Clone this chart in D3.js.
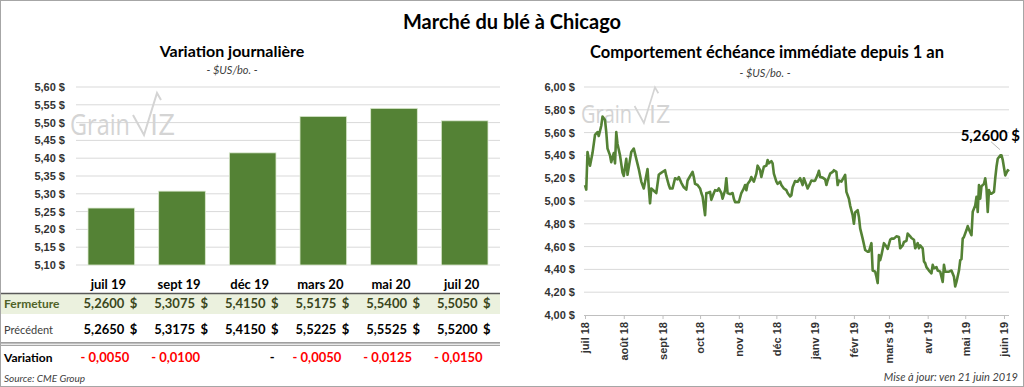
<!DOCTYPE html>
<html>
<head>
<meta charset="utf-8">
<script src="https://cdn.jsdelivr.net/npm/d3@7"></script>
<style>
  body { margin: 0; background: #fff; }
  svg { display: block; font-family: Lato, "Open Sans", sans-serif; }
</style>
</head>
<body>
<script>
// Variation journalière
const mois = ["juil 19", "sept 19", "déc 19", "mars 20", "mai 20", "juil 20"];
const fermeture = [5.26, 5.3075, 5.415, 5.5175, 5.54, 5.505];
const precedent = [5.265, 5.3175, 5.415, 5.5225, 5.5525, 5.52];
const variation = [-0.005, -0.01, 0, -0.005, -0.0125, -0.015];

// échéance immédiate, 1 an
const nomsMois = ["janv", "févr", "mars", "avr", "mai", "juin", "juil", "août", "sept", "oct", "nov", "déc"];
const dernier = 5.26;
const serie = [
  ["2018-07-01",5.14],["2018-07-02",5.10],["2018-07-03",5.43],["2018-07-05",5.31],["2018-07-07",5.42],
  ["2018-07-09",5.58],["2018-07-11",5.605],["2018-07-12",5.57],["2018-07-14",5.66],["2018-07-15",5.74],
  ["2018-07-17",5.71],["2018-07-18",5.605],["2018-07-19",5.46],["2018-07-21",5.40],["2018-07-22",5.34],
  ["2018-07-24",5.42],["2018-07-25",5.33],["2018-07-26",5.605],["2018-07-27",5.50],["2018-07-29",5.40],
  ["2018-07-31",5.25],["2018-08-01",5.22],["2018-08-03",5.37],["2018-08-04",5.23],["2018-08-07",5.43],
  ["2018-08-09",5.46],["2018-08-11",5.37],["2018-08-13",5.28],["2018-08-15",5.17],["2018-08-17",5.11],
  ["2018-08-20",5.28],["2018-08-21",5.12],["2018-08-22",4.98],["2018-08-23",5.11],["2018-08-25",5.09],
  ["2018-08-27",5.07],["2018-08-29",5.23],["2018-08-30",5.24],["2018-09-03",5.27],["2018-09-04",5.22],
  ["2018-09-06",5.14],["2018-09-07",5.11],["2018-09-09",5.11],["2018-09-11",5.20],["2018-09-13",5.19],
  ["2018-09-14",5.21],["2018-09-16",5.16],["2018-09-18",5.12],["2018-09-20",5.10],["2018-09-21",5.18],
  ["2018-09-25",5.255],["2018-09-26",5.21],["2018-09-27",5.15],["2018-09-29",5.14],["2018-10-01",5.11],
  ["2018-10-02",5.07],["2018-10-03",5.04],["2018-10-05",4.875],["2018-10-06",5.07],["2018-10-07",5.07],
  ["2018-10-09",5.08],["2018-10-10",5.01],["2018-10-12",5.07],["2018-10-13",5.095],["2018-10-15",5.09],
  ["2018-10-16",5.11],["2018-10-18",5.07],["2018-10-19",5.02],["2018-10-21",5.095],["2018-10-22",5.20],
  ["2018-10-23",5.07],["2018-10-25",5.06],["2018-10-27",5.07],["2018-10-28",5.02],["2018-10-29",4.99],
  ["2018-10-31",4.99],["2018-11-01",4.99],["2018-11-03",5.07],["2018-11-05",5.11],["2018-11-06",5.14],
  ["2018-11-07",5.095],["2018-11-08",5.15],["2018-11-10",5.18],["2018-11-11",5.21],["2018-11-13",5.17],
  ["2018-11-15",5.24],["2018-11-16",5.31],["2018-11-18",5.27],["2018-11-19",5.21],["2018-11-21",5.30],
  ["2018-11-23",5.31],["2018-11-24",5.36],["2018-11-25",5.33],["2018-11-27",5.35],["2018-11-28",5.33],
  ["2018-11-29",5.24],["2018-12-01",5.17],["2018-12-02",5.15],["2018-12-04",5.17],["2018-12-05",5.14],
  ["2018-12-07",5.11],["2018-12-09",5.095],["2018-12-10",5.07],["2018-12-12",5.04],["2018-12-13",5.05],
  ["2018-12-14",5.12],["2018-12-16",5.175],["2018-12-17",5.17],["2018-12-18",5.17],["2018-12-20",5.20],
  ["2018-12-21",5.17],["2018-12-22",5.14],["2018-12-23",5.20],["2018-12-24",5.17],["2018-12-26",5.11],
  ["2018-12-28",5.155],["2018-12-29",5.18],["2018-12-31",5.175],["2019-01-01",5.18],["2019-01-03",5.23],
  ["2019-01-04",5.265],["2019-01-05",5.21],["2019-01-07",5.205],["2019-01-09",5.19],["2019-01-10",5.14],
  ["2019-01-11",5.18],["2019-01-13",5.24],["2019-01-15",5.255],["2019-01-16",5.27],["2019-01-18",5.255],
  ["2019-01-19",5.14],["2019-01-20",5.18],["2019-01-22",5.17],["2019-01-24",5.21],["2019-01-25",5.23],
  ["2019-01-26",5.08],["2019-01-28",5.02],["2019-01-29",4.96],["2019-01-31",4.875],["2019-02-01",4.80],
  ["2019-02-02",4.90],["2019-02-04",4.92],["2019-02-05",4.86],["2019-02-06",4.76],["2019-02-08",4.67],
  ["2019-02-09",4.62],["2019-02-10",4.57],["2019-02-12",4.555],["2019-02-13",4.555],["2019-02-15",4.63],
  ["2019-02-16",4.39],["2019-02-18",4.38],["2019-02-19",4.335],["2019-02-20",4.28],["2019-02-21",4.525],
  ["2019-02-22",4.48],["2019-02-23",4.525],["2019-02-25",4.63],["2019-02-27",4.60],["2019-02-28",4.58],
  ["2019-03-02",4.66],["2019-03-03",4.67],["2019-03-05",4.67],["2019-03-07",4.69],["2019-03-09",4.685],
  ["2019-03-10",4.585],["2019-03-12",4.61],["2019-03-13",4.64],["2019-03-15",4.65],["2019-03-16",4.715],
  ["2019-03-18",4.69],["2019-03-19",4.675],["2019-03-21",4.66],["2019-03-22",4.585],["2019-03-24",4.63],
  ["2019-03-25",4.585],["2019-03-26",4.61],["2019-03-28",4.585],["2019-03-29",4.47],["2019-03-30",4.455],
  ["2019-03-31",4.42],["2019-04-02",4.39],["2019-04-04",4.365],["2019-04-05",4.44],["2019-04-06",4.41],
  ["2019-04-08",4.42],["2019-04-09",4.39],["2019-04-11",4.38],["2019-04-13",4.29],["2019-04-14",4.44],
  ["2019-04-15",4.38],["2019-04-17",4.38],["2019-04-18",4.38],["2019-04-20",4.39],["2019-04-22",4.335],
  ["2019-04-23",4.25],["2019-04-24",4.29],["2019-04-26",4.39],["2019-04-27",4.48],["2019-04-28",4.49],
  ["2019-04-29",4.67],["2019-04-30",4.685],["2019-05-02",4.745],["2019-05-03",4.78],["2019-05-04",4.75],
  ["2019-05-06",4.70],["2019-05-07",4.905],["2019-05-09",4.96],["2019-05-10",5.036],["2019-05-11",4.905],
  ["2019-05-12",5.14],["2019-05-13",5.02],["2019-05-14",5.13],["2019-05-16",5.15],["2019-05-17",5.20],
  ["2019-05-18",5.11],["2019-05-19",4.905],["2019-05-20",5.095],["2019-05-21",5.065],["2019-05-22",5.065],
  ["2019-05-24",5.08],["2019-05-25",5.20],["2019-05-26",5.30],["2019-05-27",5.37],["2019-05-29",5.40],
  ["2019-05-30",5.40],["2019-05-31",5.36],["2019-06-02",5.225],["2019-06-04",5.27],["2019-06-05",5.26]
];

const W = 1024, H = 387;
const vert = "#548235";
const fr = d3.formatLocale({decimal: ",", thousands: " ", grouping: [3], currency: ["", " $"]});
const f2 = fr.format(".2f"), f4 = fr.format(".4f");
const parse = d3.timeParse("%Y-%m-%d");

const svg = d3.select("body").append("svg")
    .attr("width", W)
    .attr("height", H);

svg.append("rect")
    .attr("x", 0.5).attr("y", 0.5)
    .attr("width", W - 1).attr("height", H - 1)
    .attr("fill", "#fff").attr("stroke", "#a6a6a6");

svg.append("text")
    .attr("x", 512).attr("y", 29)
    .attr("text-anchor", "middle")
    .style("font-size", "20px").style("font-weight", "bold")
    .text("Marché du blé à Chicago");

// watermark
function grainwiz(x0, y0, k) {
    const g = svg.append("g")
        .attr("transform", `translate(${x0},${y0}) scale(${k})`)
        .attr("fill", "#d4d4d4");
    g.append("text").attr("x", 0).attr("y", 0)
        .attr("textLength", 60).attr("lengthAdjust", "spacingAndGlyphs")
        .style("font-size", "30px").style("font-family", "'Open Sans', sans-serif")
        .text("Grain");
    g.append("path")
        .attr("d", "M63,-20 L74,0 L87,-42 L91,-35")
        .attr("fill", "none").attr("stroke", "#d4d4d4").attr("stroke-width", 2);
    g.append("text").attr("x", 80).attr("y", 0)
        .attr("textLength", 25).attr("lengthAdjust", "spacingAndGlyphs")
        .style("font-size", "30px").style("font-family", "'Open Sans', sans-serif")
        .text("IZ");
}

// ---------- left: bars ----------
const xb = d3.scaleBand().domain(mois).range([76, 500]).paddingInner(0.34).paddingOuter(0.17);
const yb = d3.scaleLinear().domain([5.10, 5.60]).range([265, 87]);

svg.append("text")
    .attr("x", 232).attr("y", 57)
    .attr("text-anchor", "middle")
    .style("font-size", "16px").style("font-weight", "bold")
    .text("Variation journalière");
svg.append("text")
    .attr("x", 232).attr("y", 74)
    .attr("text-anchor", "middle")
    .style("font-size", "11px").style("font-style", "italic").attr("fill", "#404040")
    .text("- $US/bo. -");

svg.append("g").selectAll("line")
    .data(yb.ticks(10))
    .join("line")
    .attr("x1", 76).attr("x2", 500)
    .attr("y1", d => yb(d)).attr("y2", d => yb(d))
    .attr("stroke", "#d9d9d9");

grainwiz(70, 135, 1);

svg.append("g")
    .attr("transform", "translate(76,0)")
    .call(d3.axisLeft(yb).ticks(10).tickSize(0).tickPadding(11).tickFormat(d => f2(d) + " $"))
    .call(g => g.select(".domain").remove())
    .selectAll("text")
    .style("font-size", "11px").style("font-weight", "bold").attr("fill", "#333");

svg.append("g").selectAll("rect")
    .data(fermeture)
    .join("rect")
    .attr("x", (d, i) => xb(mois[i]))
    .attr("width", xb.bandwidth())
    .attr("y", d => yb(d))
    .attr("height", d => yb(5.10) - yb(d))
    .attr("fill", vert)
    .attr("stroke", "#dbe9cf").attr("stroke-width", 0.8);

// table
const cx = m => xb(m) + xb.bandwidth() / 2;
svg.append("rect").attr("x", 1).attr("y", 294).attr("width", 499).attr("height", 20).attr("fill", "#ebf1de");
svg.append("line").attr("x1", 1).attr("x2", 500).attr("y1", 293.5).attr("y2", 293.5)
    .attr("stroke", "#595959").attr("stroke-width", 1.5);
svg.append("line").attr("x1", 1).attr("x2", 500).attr("y1", 342.8).attr("y2", 342.8)
    .attr("stroke", "#7f7f7f").attr("stroke-width", 1.3);
svg.append("line").attr("x1", 1).attr("x2", 500).attr("y1", 345.3).attr("y2", 345.3)
    .attr("stroke", "#a6a6a6").attr("stroke-width", 1.3);

svg.append("g").selectAll("text")
    .data(mois)
    .join("text")
    .attr("x", d => cx(d) - 3).attr("y", 289)
    .attr("text-anchor", "middle")
    .style("font-size", "13px").style("font-weight", "bold")
    .text(d => d);

const rangees = [
    {nom: "Fermeture", vals: fermeture, y: 308, lab: "#4f6228", col: "#3b4720", lw: "bold", ls: "12px"},
    {nom: "Précédent", vals: precedent, y: 334, lab: "#404040", col: "#000", lw: "normal", ls: "11px"}
];
rangees.forEach(r => {
    svg.append("text").attr("x", 4).attr("y", r.y)
        .style("font-size", r.ls).style("font-weight", r.lw).attr("fill", r.lab)
        .text(r.nom);
    const g = svg.append("g").attr("fill", r.col)
        .style("font-size", "13px").style("font-weight", "bold");
    g.selectAll(".v").data(r.vals).join("text")
        .attr("x", (d, i) => cx(mois[i]) + 13).attr("y", r.y)
        .attr("text-anchor", "end")
        .text(d => f4(d));
    g.selectAll(".s").data(r.vals).join("text")
        .attr("x", (d, i) => cx(mois[i]) + 26).attr("y", r.y)
        .attr("text-anchor", "end")
        .text("$");
});

svg.append("text").attr("x", 4).attr("y", 362)
    .style("font-size", "12px").style("font-weight", "bold")
    .text("Variation");
svg.append("g").selectAll("text")
    .data(variation)
    .join("text")
    .attr("x", (d, i) => cx(mois[i]) + (d === 0 ? 22 : 18)).attr("y", 362)
    .attr("text-anchor", "end")
    .attr("fill", d => d < 0 ? "#ff0000" : "#000")
    .style("font-size", "13px").style("font-weight", "bold")
    .text(d => d === 0 ? "-" : (d < 0 ? "- " : "") + f4(Math.abs(d)));

svg.append("text").attr("x", 4).attr("y", 382)
    .style("font-size", "10px").style("font-style", "italic").attr("fill", "#404040")
    .text("Source: CME Group");

// ---------- right: line ----------
const pts = serie.map(d => ({date: parse(d[0]), v: d[1]}));
const xl = d3.scaleTime().domain([parse("2018-07-01"), parse("2019-06-05")]).range([585, 1009]);
const yl = d3.scaleLinear().domain([4, 6]).range([315, 87]);

svg.append("text")
    .attr("x", 767).attr("y", 58)
    .attr("text-anchor", "middle")
    .style("font-size", "16.5px").style("font-weight", "bold")
    .text("Comportement échéance immédiate depuis 1 an");
svg.append("text")
    .attr("x", 765).attr("y", 77)
    .attr("text-anchor", "middle")
    .style("font-size", "11px").style("font-style", "italic").attr("fill", "#404040")
    .text("- $US/bo. -");

svg.append("g").selectAll("line")
    .data(yl.ticks(10).filter(d => d > 4))
    .join("line")
    .attr("x1", 584).attr("x2", 1009)
    .attr("y1", d => yl(d)).attr("y2", d => yl(d))
    .attr("stroke", "#d9d9d9");

grainwiz(581, 123, 0.85);

svg.append("g")
    .attr("transform", "translate(584,0)")
    .call(d3.axisLeft(yl).ticks(10).tickSize(0).tickPadding(9).tickFormat(d => f2(d) + " $"))
    .call(g => g.select(".domain").remove())
    .selectAll("text")
    .style("font-size", "11px").style("font-weight", "bold").attr("fill", "#333");

const ax = svg.append("g")
    .attr("transform", "translate(0,315)")
    .call(d3.axisBottom(xl).ticks(d3.timeMonth.every(1)).tickSize(4)
        .tickFormat(d => nomsMois[d.getMonth()] + " " + d3.timeFormat("%y")(d)));
ax.select(".domain").attr("stroke", "#bfbfbf").attr("d", "M584,0.5H1009");
ax.selectAll(".tick line").attr("stroke", "#bfbfbf");
ax.selectAll("text")
    .attr("transform", "rotate(-90)")
    .attr("x", -7).attr("y", 0).attr("dy", "0.35em")
    .style("text-anchor", "end")
    .style("font-size", "11px").style("font-weight", "bold").attr("fill", "#333");

svg.append("path")
    .datum(pts)
    .attr("fill", "none")
    .attr("stroke", vert)
    .attr("stroke-width", 2.6)
    .attr("stroke-linejoin", "round")
    .attr("d", d3.line().x(d => xl(d.date)).y(d => yl(d.v)));

// last value label
const fin = pts[pts.length - 1];
svg.append("line")
    .attr("x1", xl(fin.date) - 18).attr("y1", yl(5.52))
    .attr("x2", xl(fin.date) - 9).attr("y2", yl(5.45))
    .attr("stroke", "#a6a6a6").attr("stroke-width", 0.8);
svg.append("text")
    .attr("x", 1020).attr("y", 141)
    .attr("text-anchor", "end")
    .style("font-size", "15px").style("font-weight", "bold")
    .text(f4(dernier) + " $");

svg.append("text")
    .attr("x", 1018).attr("y", 381)
    .attr("text-anchor", "end")
    .style("font-size", "11px").style("font-style", "italic").attr("fill", "#404040")
    .text("Mise à jour: ven 21 juin 2019");
</script>
</body>
</html>
